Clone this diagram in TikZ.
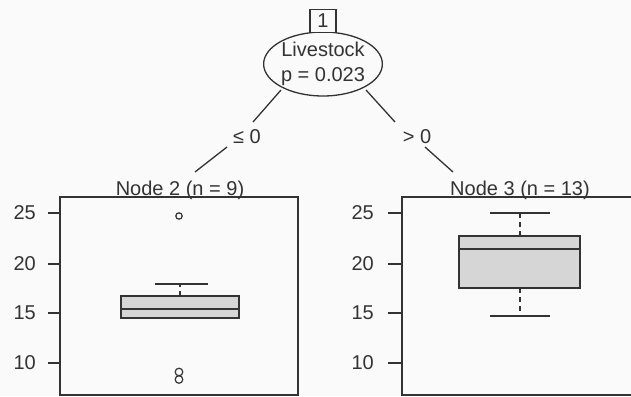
\documentclass[tikz,border=0pt]{standalone}
\usepackage{fontspec}
\setmainfont{Liberation Sans}
\usetikzlibrary{shapes.geometric}
\definecolor{ink}{HTML}{333333}
\definecolor{boxfill}{HTML}{D6D6D6}
\definecolor{paper}{HTML}{FAFAFA}
\begin{document}
\begin{tikzpicture}[x=1pt,y=-1pt,
  every node/.style={text=ink, inner sep=0pt, font=\fontsize{20}{25}\selectfont},
  line/.style={draw=ink, line width=1.3pt},
  inner/.style={draw=ink, line width=1.2pt},
  medianline/.style={draw=ink, line width=2.4pt},
  whisk/.style={draw=ink, line width=1.2pt, dash pattern=on 5pt off 4pt},
  panel/.style={draw=ink, line width=1.2pt},
  tick/.style={draw=ink, line width=1.2pt},
  ticklab/.style={anchor=east},
  outlier/.style={draw=ink, line width=1.2pt}]
\useasboundingbox (0,0) rectangle (631,396);
\fill[paper] (0,0) rectangle (631,396);

% split node
\node[ellipse, draw=ink, line width=1.3pt, minimum width=113pt, minimum height=64pt,
      align=center] (root) at (323,64) {Livestock\\p = 0.023};
\node[draw=ink, line width=1.3pt, fill=paper, minimum width=26pt, minimum height=23pt] (rootid) at (323,21) {1};

% edge labels
\node (lleft) at (247,137) {≤ 0};
\node (lright) at (417,137) {> 0};

% connector end points
\coordinate (a1) at (281,90);
\coordinate (a2) at (253,122);
\coordinate (a3) at (227,147);
\coordinate (a4) at (195,172);
\coordinate (b1) at (366,90);
\coordinate (b2) at (395,122);
\coordinate (b3) at (425,147);
\coordinate (b4) at (453,172);
\draw[line] (a1) -- (a2);
\draw[line] (a3) -- (a4);
\draw[line] (b1) -- (b2);
\draw[line] (b3) -- (b4);

% terminal node 2
\node[anchor=base] (t2) at (180,195) {Node 2 (n = 9)};
\draw[panel] (60,197) rectangle (298,395);
\foreach \v/\y in {25/213,20/264,15/313,10/363}{
  \draw[tick] (48,\y) -- (60,\y);
  \node[ticklab] at (36,\y) {\v};
}
\draw[whisk] (180,296) -- (180,284);
\draw[inner] (155,284) -- (208,284);
\draw[inner, fill=boxfill] (121,296) rectangle (239,318);
\draw[medianline] (121,309) -- (239,309);
\draw[outlier] (179,216) circle (3.2pt);
\draw[outlier] (179,372) circle (3.8pt);
\draw[outlier] (179,379.5) circle (3.8pt);

% terminal node 3
\node[anchor=base] (t3) at (520,195) {Node 3 (n = 13)};
\draw[panel] (402,197) rectangle (640,395);
\foreach \v/\y in {25/213,20/264,15/313,10/363}{
  \draw[tick] (388,\y) -- (402,\y);
  \node[ticklab] at (374,\y) {\v};
}
\draw[whisk] (520,236) -- (520,213);
\draw[whisk] (520,288) -- (520,316);
\draw[inner] (490,213) -- (550,213);
\draw[inner] (490,316) -- (550,316);
\draw[inner, fill=boxfill] (459,236) rectangle (580,288);
\draw[medianline] (459,249) -- (580,249);
\end{tikzpicture}
\end{document}
